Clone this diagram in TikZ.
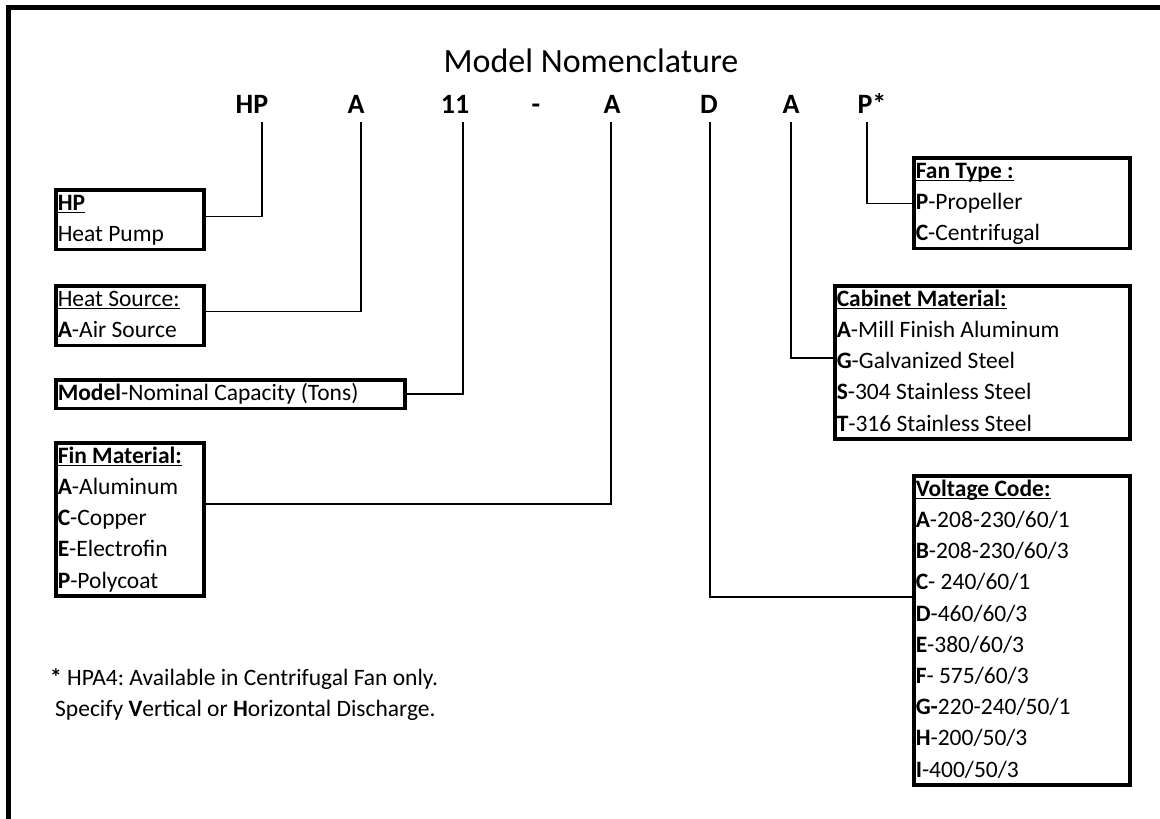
\documentclass[tikz,border=0pt]{standalone}
\usepackage{fontspec}
\setmainfont{Carlito}
\setlength{\parindent}{0pt}
\frenchspacing
\newcommand{\ulin}[1]{\setbox0\hbox{#1}\rlap{\rule[-2.6pt]{\wd0}{1.3pt}}\box0}
\newcommand{\tops}{\spaceskip=\fontdimen2\font\xspaceskip=\fontdimen2\font\relax\rule{0pt}{20.5pt}}
\newcommand{\bots}{\rule[-8pt]{0pt}{8pt}}
\newcommand{\boxfont}{\fontsize{23.5}{31.2}\selectfont\frenchspacing}
\tikzset{
  code/.style={font=\fontsize{28}{30}\selectfont\bfseries, inner xsep=0pt, inner ysep=9pt, text depth=0pt, anchor=base},
  keybox/.style={draw, line width=3.5pt, anchor=north west, align=left, inner xsep=2pt, inner ysep=0pt, font=\boxfont},
  link/.style={line width=1.2pt},
  note/.style={anchor=base west, inner sep=0pt, font=\boxfont}
}

\begin{document}
\begin{tikzpicture}[x=1pt,y=-1pt]
	%%%%% START %%%%%
	\useasboundingbox (0,0) rectangle (1160,819);
	\draw[line width=5pt] (8.5,819) -- (8.5,7.5) -- (1160,7.5);
	
	\node[anchor=base, font=\fontsize{34}{40}\selectfont] (title) at (591,72) {Model Nomenclature};
	
	\node[code] (hp) at (252,113) {HP};
	\node[code] (src) at (356,113) {A};
	\node[code] (cap) at (455,113) {11};
	\node[code] (dash) at (536,113) {-};
	\node[code] (fin) at (612,113) {A};
	\node[code] (volt) at (709,113) {D};
	\node[code] (cab) at (791,113) {A};
	\node[code] (fan) at (865,113) {P\rlap{*}};
	
	\node[keybox, text width=144pt] (hpbox) at (54,188) {\tops\ulin{\textbf{HP}}\\Heat Pump\bots};
	\node[keybox, text width=144pt] (srcbox) at (54,284) {\tops\ulin{Heat Source:}\\\textbf{A}-Air Source\bots};
	\node[keybox, text width=345pt] (capbox) at (54,378) {\tops\textbf{Model}-Nominal Capacity (Tons)\bots};
	\node[keybox, text width=144pt] (finbox) at (54,441) {\tops\ulin{\textbf{Fin Material:}}\\
		\textbf{A}-Aluminum\\\textbf{C}-Copper\\\textbf{E}-Electrofin\\\textbf{P}-Polycoat\bots};
	
	\node[keybox, text width=212pt] (fanbox) at (912,156) {\tops\ulin{\textbf{Fan Type :}}\\
		\textbf{P}-Propeller\\\textbf{C}-Centrifugal\bots};
	\node[keybox, text width=291pt] (cabbox) at (833,284) {\tops\ulin{\textbf{Cabinet Material:}}\\
		\textbf{A}-Mill Finish Aluminum\\\textbf{G}-Galvanized Steel\\
		\textbf{S}-304 Stainless Steel\\\textbf{T}-316 Stainless Steel\bots};
	\node[keybox, text width=212pt] (voltbox) at (912,474) {\tops\ulin{\textbf{Voltage Code:}}\\
		\textbf{A}-208-230/60/1\\\textbf{B}-208-230/60/3\\\textbf{C}- 240/60/1\\
		\textbf{D}-460/60/3\\\textbf{E}-380/60/3\\\textbf{F}- 575/60/3\\
		\textbf{G-}220-240/50/1\\\textbf{H}-200/50/3\\\textbf{I}-400/50/3\bots};
	
	\draw[link] ([yshift=3pt]hpbox.east) -| ([xshift=10pt]hp.south);
	\draw[link] ([yshift=4pt]srcbox.east) -| ([xshift=5pt]src.south);
	\draw[link] (capbox.east) -| ([xshift=8pt]cap.south);
	\draw[link] ([yshift=15.5pt]finbox.east) -| ([xshift=-1pt]fin.south);
	\draw[link] ([yshift=33.5pt]voltbox.west) -| ([xshift=1pt]volt.south);
	\draw[link] ([yshift=4.5pt]cabbox.west) -| (cab.south);
	\draw[link] (fanbox.west) -| ([xshift=2pt]fan.south);
	
	\node[note] (note1) at (50,685) {\textbf{*} HPA4: Available in Centrifugal Fan only.};
	\node[note] (note2) at (55,716) {Specify \textbf{V}ertical or \textbf{H}orizontal Discharge.};
	%%%%% END %%%%%
\end{tikzpicture}
\end{document}
